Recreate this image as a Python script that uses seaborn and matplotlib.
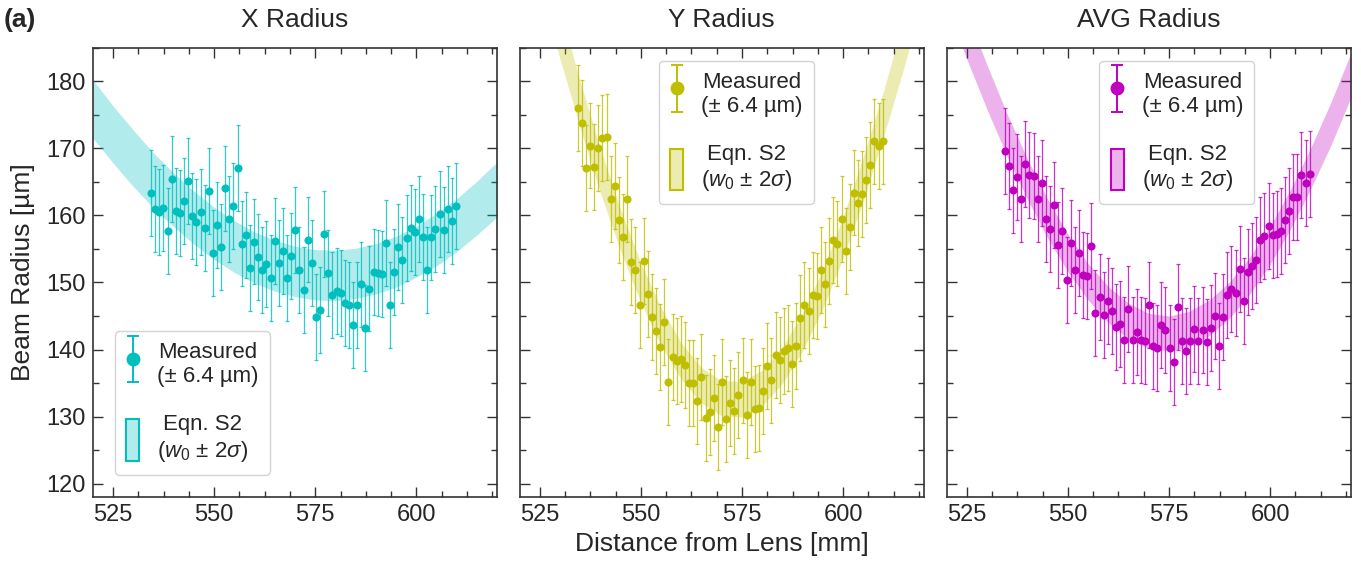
import numpy as np
import pandas as pd
import matplotlib
matplotlib.use("Agg")
import matplotlib.pyplot as plt
import matplotlib.patches as mpatches
from matplotlib.ticker import MultipleLocator
from matplotlib.legend_handler import HandlerErrorbar
from matplotlib.container import ErrorbarContainer
import seaborn as sns

# ---------------- data ----------------
distance_mm = np.linspace(534.4, 609.8, 75)   # measurement positions [mm]
meas_err = 6.4                                # +/- error on every point [um]

x_radius = [163.3, 161.0, 160.5, 161.1, 157.7, 165.4, 160.6, 160.3, 162.2, 165.1,
            159.9, 159.0, 160.5, 158.1, 163.6, 154.4, 158.5, 155.3, 164.0, 159.4,
            161.4, 167.0, 155.8, 157.1, 152.1, 156.1, 153.8, 151.9, 152.7, 150.7,
            156.2, 152.9, 154.7, 150.6, 153.9, 157.8, 151.8, 148.9, 156.4, 152.9,
            144.8, 145.9, 157.2, 151.4, 148.2, 148.7, 148.4, 147.0, 146.6, 143.7,
            146.7, 149.7, 143.2, 149.1, 151.6, 151.4, 151.2, 155.9, 146.6, 151.5,
            155.3, 153.4, 156.6, 158.1, 157.5, 159.4, 156.8, 151.9, 156.7, 158.0,
            160.2, 157.8, 160.9, 159.1, 161.4]

y_radius = [176.0, 173.8, 167.0, 170.4, 167.2, 170.0, 171.5, 171.6, 162.5, 164.4,
            159.3, 156.8, 162.4, 153.1, 151.8, 146.6, 153.2, 148.3, 144.9, 142.8,
            140.4, 144.1, 135.2, 138.9, 138.3, 138.6, 137.7, 135.0, 135.0, 132.4,
            135.9, 129.8, 130.7, 132.8, 128.5, 135.2, 129.6, 132.1, 130.9, 133.2,
            135.4, 130.3, 135.2, 131.1, 131.3, 133.8, 137.6, 135.4, 139.2, 138.4,
            139.8, 140.3, 137.9, 140.5, 144.7, 146.6, 145.7, 148.1, 148.0, 151.8,
            149.7, 153.2, 156.3, 155.8, 159.5, 154.7, 158.2, 163.4, 161.9, 163.2,
            165.2, 167.5, 171.0, 170.3, 171.0]

avg_radius = [169.6, 167.3, 163.7, 165.7, 162.5, 167.7, 166.0, 165.9, 162.4, 164.8,
              159.5, 157.9, 161.5, 155.6, 157.7, 150.4, 155.9, 151.8, 154.4, 151.1,
              150.9, 155.5, 145.5, 147.9, 145.1, 147.2, 145.7, 143.4, 143.8, 141.5,
              146.0, 141.4, 142.6, 141.5, 141.3, 146.6, 140.6, 140.3, 143.6, 142.9,
              140.2, 138.1, 146.3, 141.3, 139.8, 141.3, 143.0, 141.3, 142.9, 141.1,
              143.2, 145.0, 140.6, 144.8, 148.1, 149.0, 148.4, 152.0, 147.3, 151.6,
              152.4, 153.3, 156.4, 156.9, 158.4, 157.0, 157.2, 157.6, 159.3, 160.6,
              162.7, 162.7, 166.0, 164.8, 166.2]

# Eqn. S2 band (w0 +/- 2 sigma), edges
band_z = [520, 525, 530, 535, 540, 545, 550, 555, 560, 565, 570,
          575, 580, 585, 590, 595, 600, 605, 610, 615, 620]
x_band_upper = [180.2, 176.3, 172.7, 169.3, 166.3, 163.6, 161.2, 159.2, 157.5, 156.3, 155.4,
                154.9, 154.8, 155.1, 155.8, 156.9, 158.4, 160.3, 162.5, 165.1, 168.0]
x_band_lower = [171.5, 167.8, 164.3, 161.1, 158.3, 155.7, 153.4, 151.5, 149.9, 148.7, 147.9,
                147.4, 147.3, 147.6, 148.3, 149.3, 150.8, 152.5, 154.6, 157.1, 159.8]
y_band_upper = [214.2, 202.3, 190.9, 180.1, 170.1, 161.0, 153.0, 146.3, 141.0, 137.3, 135.3,
                135.2, 136.8, 140.2, 145.2, 151.7, 159.5, 168.4, 178.2, 188.9, 200.2]
y_band_lower = [206.0, 194.5, 183.5, 173.2, 163.5, 154.8, 147.1, 140.7, 135.6, 132.0, 130.1,
                129.9, 131.5, 134.8, 139.6, 145.9, 153.4, 161.9, 171.4, 181.6, 192.5]
avg_band_upper = [198.4, 190.2, 182.4, 175.1, 168.4, 162.4, 157.2, 152.8, 149.4, 146.9, 145.4,
                  145.0, 145.7, 147.4, 150.1, 153.8, 158.4, 163.8, 170.0, 176.8, 184.2]
avg_band_lower = [191.3, 183.3, 175.8, 168.8, 162.4, 156.6, 151.6, 147.4, 144.0, 141.6, 140.2,
                  139.8, 140.4, 142.1, 144.7, 148.3, 152.7, 157.9, 163.9, 170.4, 177.6]

titles = ["X Radius", "Y Radius", "AVG Radius"]
colors = ["#00BFBF", "#BFBF00", "#BF00BF"]
legend_labels = ["Measured\n(\u00b1 6.4 \u00b5m)", "Eqn. S2\n($w_0$ \u00b1 2$\\sigma$)"]
x_label = "Distance from Lens [mm]"
y_label = "Beam Radius [\u00b5m]"
panel_tag = "(a)"

# ---------------- style ----------------
sns.set_theme(style="ticks")
plt.rcParams["font.family"] = ["Liberation Sans", "DejaVu Sans"]
plt.rcParams["mathtext.fontset"] = "custom"
plt.rcParams["mathtext.rm"] = "Liberation Sans"
plt.rcParams["mathtext.it"] = "Liberation Sans:italic"
plt.rcParams["mathtext.bf"] = "Liberation Sans:bold"

fig = plt.figure(figsize=(13.61, 5.64), dpi=100)
W, H = 1361.0, 564.0
ax_w = 404.5 / W
ax_b = 1 - 497.3 / H
ax_h = (497.3 - 47.5) / H
lefts = [92.8 / W, 519.5 / W, 946.5 / W]
axes = [fig.add_axes([l, ax_b, ax_w, ax_h]) for l in lefts]

series = [x_radius, y_radius, avg_radius]
uppers = [x_band_upper, y_band_upper, avg_band_upper]
lowers = [x_band_lower, y_band_lower, avg_band_lower]
legend_pos = [dict(loc="lower left", bbox_to_anchor=(0.055, 0.05)),
              dict(loc="upper left", bbox_to_anchor=(0.345, 0.971)),
              dict(loc="upper left", bbox_to_anchor=(0.378, 0.971))]

for i, ax in enumerate(axes):
    c = colors[i]
    ax.fill_between(band_z, lowers[i], uppers[i], color=c, alpha=0.3, lw=0, zorder=1)
    ax.errorbar(distance_mm, series[i], yerr=meas_err, fmt="none", ecolor=c,
                elinewidth=0.9, capsize=1.6, capthick=0.9, alpha=0.8, zorder=2)
    df = pd.DataFrame({"distance": distance_mm, "radius": series[i]})
    sns.scatterplot(data=df, x="distance", y="radius", ax=ax, color=c, s=34,
                    linewidth=0, zorder=3, legend=False)

    proxy = ax.errorbar([np.nan], [np.nan], yerr=[meas_err], fmt="o", color=c,
                        markersize=9, elinewidth=1.4, capsize=4, capthick=1.4)
    patch = mpatches.Patch(facecolor=matplotlib.colors.to_rgba(c, 0.3),
                           edgecolor=c, linewidth=1.5)
    leg = ax.legend([proxy, patch], legend_labels,
                    handler_map={ErrorbarContainer: HandlerErrorbar(yerr_size=1.05)},
                    handlelength=0.6, handleheight=2.5, labelspacing=1.2,
                    handletextpad=0.8, borderpad=0.5, borderaxespad=0,
                    fontsize=16, frameon=True, fancybox=True, framealpha=0.85,
                    edgecolor="0.8", **legend_pos[i])
    for t in leg.get_texts():
        t.set_multialignment("center")

    ax.set_xlim(520, 620)
    ax.set_ylim(118, 185)
    ax.xaxis.set_major_locator(MultipleLocator(25))
    ax.xaxis.set_minor_locator(MultipleLocator(6.25))
    ax.yaxis.set_major_locator(MultipleLocator(10))
    ax.yaxis.set_minor_locator(MultipleLocator(5))
    ax.tick_params(which="both", direction="in", top=True, right=True,
                   color="#333333", width=1.0)
    ax.tick_params(which="major", length=7, labelsize=17, pad=5)
    ax.tick_params(which="minor", length=4.5)
    for s in ax.spines.values():
        s.set_linewidth(1.2)
        s.set_color("#333333")
    ax.set_title(titles[i], fontsize=19, pad=15)
    ax.set_xlabel("")
    ax.set_ylabel("")
    if i > 0:
        ax.tick_params(labelleft=False)

axes[0].set_ylabel(y_label, fontsize=19, labelpad=8)
axes[1].set_xlabel(x_label, fontsize=19, labelpad=4)
fig.text(0.003, 0.985, panel_tag, fontsize=19, fontweight="bold", va="top", ha="left")

fig.savefig("out.png", dpi=100)
